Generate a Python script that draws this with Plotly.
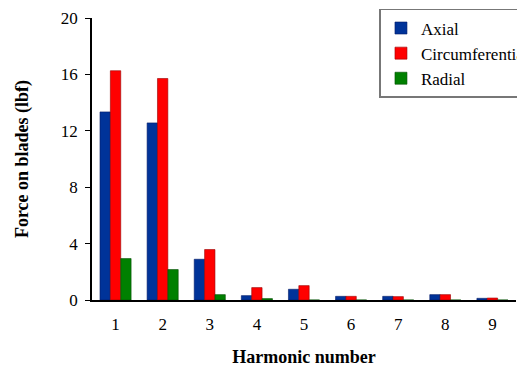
import plotly.graph_objects as go

harmonics = ["1", "2", "3", "4", "5", "6", "7", "8", "9"]
axial = [13.34, 12.56, 2.89, 0.31, 0.76, 0.26, 0.26, 0.38, 0.12]
circumferential = [16.26, 15.71, 3.58, 0.88, 1.02, 0.26, 0.24, 0.38, 0.14]
radial = [2.94, 2.16, 0.38, 0.10, 0.0, 0.0, 0.0, 0.0, 0.0]
y_ticks = [0, 4, 8, 12, 16, 20]

font_serif = "Times New Roman, Liberation Serif, DejaVu Serif, serif"

fig = go.Figure()
for name, vals, col, edge in [
    ("Axial", axial, "#003399", "#001a66"),
    ("Circumferential", circumferential, "#ff0000", "#990000"),
    ("Radial", radial, "#008000", "#004d00"),
]:
    fig.add_trace(go.Bar(x=harmonics, y=vals, name=name,
                         marker=dict(color=col, line=dict(color=edge, width=0.6))))

fig.update_layout(
    width=517, height=367,
    margin=dict(l=92, r=1, t=18, b=67, autoexpand=False),
    paper_bgcolor="white", plot_bgcolor="white",
    barmode="group", bargap=0.34, bargroupgap=0,
    font=dict(family=font_serif, size=17, color="black"),
    showlegend=True,
    legend=dict(x=0.678, y=1.032, xanchor="left", yanchor="top",
                bordercolor="#777777", borderwidth=1.5, bgcolor="white",
                font=dict(family=font_serif, size=17),
                itemwidth=30, tracegroupgap=0),
    xaxis=dict(type="category", showline=True, linecolor="black", linewidth=1.5,
               ticks="", showgrid=False, range=[-0.5, 8.5], ticklabelstandoff=8,
               tickfont=dict(family=font_serif, size=17),
               title=dict(text="<b>Harmonic number</b>",
                          font=dict(family=font_serif, size=18), standoff=20)),
    yaxis=dict(range=[0, 20], tickvals=y_ticks, showline=True, linecolor="black",
               linewidth=1.5, ticks="outside", ticklen=5, tickcolor="black",
               showgrid=False, zeroline=False, ticklabelstandoff=4,
               tickfont=dict(family=font_serif, size=17),
               title=dict(text="<b>Force on blades (lbf)</b>",
                          font=dict(family=font_serif, size=18), standoff=28)),
)

fig.write_html("out.html")
